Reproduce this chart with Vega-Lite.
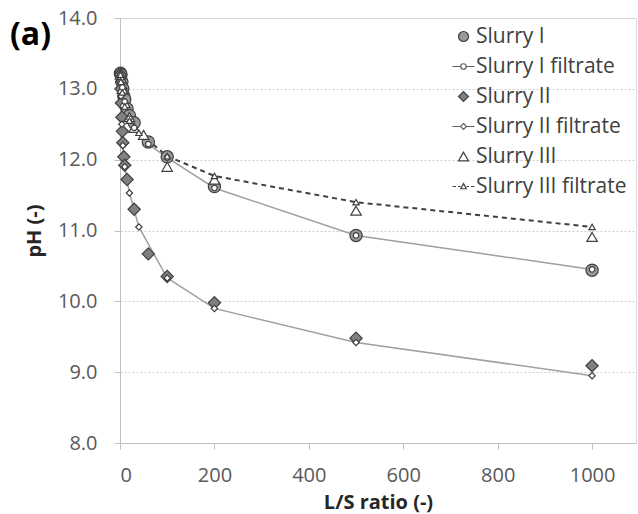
{
  "$schema": "https://vega.github.io/schema/vega-lite/v6.json",
  "width": 516,
  "height": 425,
  "autosize": {"type": "none"},
  "padding": {"left": 120, "top": 18, "right": 2, "bottom": 71},
  "background": "white",
  "config": {
    "font": "Open Sans",
    "view": {"stroke": "#d9d9d9"},
    "axis": {
      "labelFont": "Open Sans",
      "labelFontSize": 20,
      "labelColor": "#595959",
      "titleFont": "Open Sans",
      "titleFontSize": 20,
      "titleFontWeight": "bold",
      "titleColor": "#262626",
      "domainColor": "#bfbfbf",
      "tickColor": "#bfbfbf",
      "tickSize": 6
    }
  },
  "title": {
    "text": "(a)",
    "anchor": "start",
    "frame": "group",
    "dx": -110,
    "dy": 48,
    "fontSize": 32,
    "fontWeight": "bold",
    "color": "#000000",
    "font": "Open Sans",
    "offset": 4
  },
  "data": {
    "values": [
      {"s": "Slurry I", "x": 1, "y": 13.22},
      {"s": "Slurry I", "x": 2, "y": 13.2},
      {"s": "Slurry I", "x": 4, "y": 13.1},
      {"s": "Slurry I", "x": 6, "y": 13.0},
      {"s": "Slurry I", "x": 8, "y": 12.9},
      {"s": "Slurry I", "x": 10, "y": 12.85},
      {"s": "Slurry I", "x": 15, "y": 12.72},
      {"s": "Slurry I", "x": 20, "y": 12.62},
      {"s": "Slurry I", "x": 30, "y": 12.52},
      {"s": "Slurry I", "x": 60, "y": 12.25},
      {"s": "Slurry I", "x": 100, "y": 12.04},
      {"s": "Slurry I", "x": 200, "y": 11.62},
      {"s": "Slurry I", "x": 500, "y": 10.93},
      {"s": "Slurry I", "x": 1000, "y": 10.44},
      {"s": "Slurry II", "x": 1, "y": 13.2},
      {"s": "Slurry II", "x": 2, "y": 13.0},
      {"s": "Slurry II", "x": 3, "y": 12.8},
      {"s": "Slurry II", "x": 4, "y": 12.6},
      {"s": "Slurry II", "x": 5, "y": 12.4},
      {"s": "Slurry II", "x": 6, "y": 12.24},
      {"s": "Slurry II", "x": 8, "y": 12.04},
      {"s": "Slurry II", "x": 10, "y": 11.92},
      {"s": "Slurry II", "x": 15, "y": 11.72},
      {"s": "Slurry II", "x": 30, "y": 11.3},
      {"s": "Slurry II", "x": 60, "y": 10.67},
      {"s": "Slurry II", "x": 100, "y": 10.35},
      {"s": "Slurry II", "x": 200, "y": 9.98},
      {"s": "Slurry II", "x": 500, "y": 9.48},
      {"s": "Slurry II", "x": 1000, "y": 9.09},
      {"s": "Slurry III", "x": 1, "y": 13.2},
      {"s": "Slurry III", "x": 2, "y": 13.15},
      {"s": "Slurry III", "x": 5, "y": 13.0},
      {"s": "Slurry III", "x": 10, "y": 12.8},
      {"s": "Slurry III", "x": 20, "y": 12.6},
      {"s": "Slurry III", "x": 30, "y": 12.45},
      {"s": "Slurry III", "x": 50, "y": 12.35},
      {"s": "Slurry III", "x": 100, "y": 11.9},
      {"s": "Slurry III", "x": 200, "y": 11.72},
      {"s": "Slurry III", "x": 500, "y": 11.28},
      {"s": "Slurry III", "x": 1000, "y": 10.91},
      {"s": "Slurry I filtrate", "x": 1, "y": 13.2},
      {"s": "Slurry I filtrate", "x": 2, "y": 13.15},
      {"s": "Slurry I filtrate", "x": 5, "y": 13.02},
      {"s": "Slurry I filtrate", "x": 10, "y": 12.82},
      {"s": "Slurry I filtrate", "x": 20, "y": 12.58},
      {"s": "Slurry I filtrate", "x": 30, "y": 12.45},
      {"s": "Slurry I filtrate", "x": 60, "y": 12.22},
      {"s": "Slurry I filtrate", "x": 100, "y": 12.03},
      {"s": "Slurry I filtrate", "x": 200, "y": 11.6},
      {"s": "Slurry I filtrate", "x": 500, "y": 10.93},
      {"s": "Slurry I filtrate", "x": 1000, "y": 10.45},
      {"s": "Slurry II filtrate", "x": 1, "y": 13.1},
      {"s": "Slurry II filtrate", "x": 2, "y": 12.9},
      {"s": "Slurry II filtrate", "x": 4, "y": 12.5},
      {"s": "Slurry II filtrate", "x": 6, "y": 12.2},
      {"s": "Slurry II filtrate", "x": 10, "y": 11.9},
      {"s": "Slurry II filtrate", "x": 20, "y": 11.53},
      {"s": "Slurry II filtrate", "x": 40, "y": 11.05},
      {"s": "Slurry II filtrate", "x": 100, "y": 10.33},
      {"s": "Slurry II filtrate", "x": 200, "y": 9.9},
      {"s": "Slurry II filtrate", "x": 500, "y": 9.42},
      {"s": "Slurry II filtrate", "x": 1000, "y": 8.95},
      {"s": "Slurry III filtrate", "x": 1, "y": 13.2},
      {"s": "Slurry III filtrate", "x": 2, "y": 13.1},
      {"s": "Slurry III filtrate", "x": 5, "y": 12.95},
      {"s": "Slurry III filtrate", "x": 10, "y": 12.75},
      {"s": "Slurry III filtrate", "x": 20, "y": 12.55},
      {"s": "Slurry III filtrate", "x": 40, "y": 12.38},
      {"s": "Slurry III filtrate", "x": 100, "y": 12.05},
      {"s": "Slurry III filtrate", "x": 200, "y": 11.77},
      {"s": "Slurry III filtrate", "x": 500, "y": 11.4},
      {"s": "Slurry III filtrate", "x": 1000, "y": 11.05}
    ]
  },
  "encoding": {
    "x": {
      "field": "x",
      "type": "quantitative",
      "scale": {"domain": [0, 1093], "nice": false, "zero": false},
      "axis": {
        "values": [0, 200, 400, 600, 800, 1000],
        "format": "d",
        "title": "L/S ratio (-)",
        "grid": false,
        "labelPadding": 16,
        "titlePadding": 7
      }
    },
    "y": {
      "field": "y",
      "type": "quantitative",
      "scale": {"domain": [8, 14], "nice": false, "zero": false},
      "axis": {
        "values": [8, 9, 10, 11, 12, 13, 14],
        "format": ".1f",
        "title": "pH (-)",
        "grid": true,
        "gridColor": "#cccccc",
        "gridDash": [2, 2],
        "labelPadding": 17,
        "titlePadding": 13
      }
    }
  },
  "layer": [
    {
      "transform": [{"filter": "datum.s === 'Slurry I filtrate' || datum.s === 'Slurry II filtrate'"}],
      "mark": {"type": "line", "color": "#a0a0a0", "strokeWidth": 1.5},
      "encoding": {"detail": {"field": "s"}}
    },
    {
      "transform": [{"filter": "datum.s === 'Slurry III filtrate'"}],
      "mark": {"type": "line", "color": "#404040", "strokeWidth": 2, "strokeDash": [5, 4]},
      "encoding": {}
    },
    {
      "mark": {"type": "point", "filled": true, "strokeWidth": 1.2, "opacity": 1},
      "encoding": {
        "shape": {
          "field": "s",
          "scale": {
            "domain": ["Slurry I", "Slurry I filtrate", "Slurry II", "Slurry II filtrate", "Slurry III", "Slurry III filtrate"],
            "range": ["circle", "circle", "diamond", "diamond", "triangle-up", "triangle-up"]
          },
          "legend": null
        },
        "fill": {
          "field": "s",
          "scale": {
            "domain": ["Slurry I", "Slurry I filtrate", "Slurry II", "Slurry II filtrate", "Slurry III", "Slurry III filtrate"],
            "range": ["#999999", "#ffffff", "#808080", "#ffffff", "#ffffff", "#ffffff"]
          },
          "legend": null
        },
        "size": {
          "field": "s",
          "scale": {
            "type": "ordinal",
            "domain": ["Slurry I", "Slurry I filtrate", "Slurry II", "Slurry II filtrate", "Slurry III", "Slurry III filtrate"],
            "range": [150, 30, 150, 40, 110, 40]
          },
          "legend": null
        },
        "stroke": {"value": "#404040"}
      }
    },
    {
      "mark": {"type": "point", "filled": true, "opacity": 0, "strokeWidth": 1.2},
      "encoding": {
        "shape": {
          "field": "s",
          "scale": {
            "domain": ["Slurry I", "Slurry I filtrate", "Slurry II", "Slurry II filtrate", "Slurry III", "Slurry III filtrate"],
            "range": [
              "circle",
              "M-2.2,0H-0.55M0.55,0H2.2M-0.55,0A0.55,0.55,0,1,1,0.55,0A0.55,0.55,0,1,1,-0.55,0Z",
              "diamond",
              "M-2.2,0H-0.6M0.6,0H2.2M0,-0.6L0.6,0L0,0.6L-0.6,0Z",
              "triangle-up",
              "M-2.2,0H-1.5M-1.1,0H-0.6M0.6,0H1.1M1.5,0H2.2M0,-0.6L0.55,0.45L-0.55,0.45Z"
            ]
          },
          "legend": {
            "orient": "none",
            "legendX": 333,
            "legendY": 8,
            "title": null,
            "padding": 0,
            "labelFont": "Open Sans",
            "labelFontSize": 21,
            "labelColor": "#404040",
            "labelLimit": 400,
            "labelOffset": 2,
            "symbolSize": 100,
            "symbolStrokeWidth": 1.2,
            "symbolOpacity": 1,
            "rowPadding": 8
          }
        },
        "fill": {
          "field": "s",
          "scale": {
            "domain": ["Slurry I", "Slurry I filtrate", "Slurry II", "Slurry II filtrate", "Slurry III", "Slurry III filtrate"],
            "range": ["#999999", "#ffffff", "#808080", "#ffffff", "#ffffff", "#ffffff"]
          }
        },
        "stroke": {
          "field": "s",
          "scale": {
            "domain": ["Slurry I", "Slurry I filtrate", "Slurry II", "Slurry II filtrate", "Slurry III", "Slurry III filtrate"],
            "range": ["#404040", "#606060", "#404040", "#606060", "#404040", "#404040"]
          }
        }
      }
    }
  ],
  "resolve": {
    "scale": {"shape": "independent", "fill": "independent", "size": "independent", "stroke": "independent"}
  }
}
